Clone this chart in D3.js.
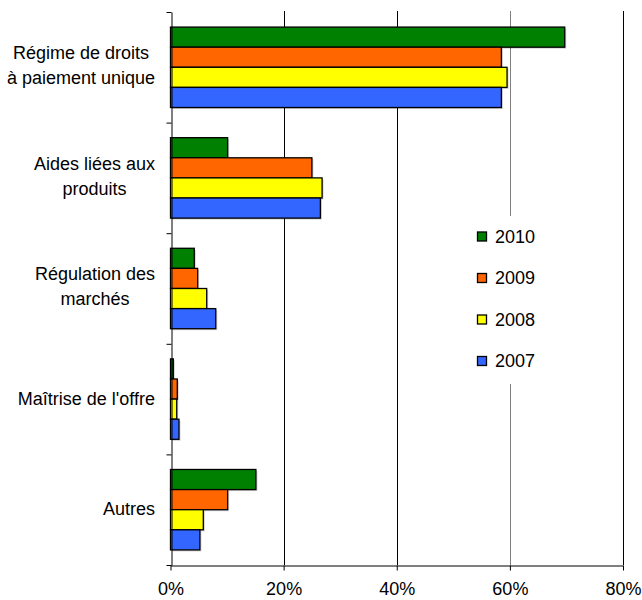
<!DOCTYPE html>
<html>
<head>
<meta charset="utf-8">
<script src="https://cdn.jsdelivr.net/npm/d3@7"></script>
<style>
  html, body { margin: 0; padding: 0; background: #fff; }
  svg { display: block; font-family: "Liberation Sans", Arial, sans-serif; }
</style>
</head>
<body>
<svg id="chart" width="642" height="600"></svg>
<script>
// Répartition des aides par type (part du total), 2007-2010
const categories = [
  ["Régime de droits", "à paiement unique"],
  ["Aides liées aux", "produits"],
  ["Régulation des", "marchés"],
  ["Maîtrise de l'offre"],
  ["Autres"]
];
const years = ["2010", "2009", "2008", "2007"];
const colors = ["#008000", "#FF6600", "#FFFF00", "#3366FF"];
const values2010 = [69.7, 10.1, 4.2, 0.5, 15.1];
const values2009 = [58.5, 25.0, 4.8, 1.2, 10.1];
const values2008 = [59.5, 26.8, 6.4, 1.1, 5.8];
const values2007 = [58.5, 26.5, 8.0, 1.5, 5.2];
const xTicks = [0, 20, 40, 60, 80];

const series = [values2010, values2009, values2008, values2007];

const svg = d3.select("#chart");
const plotLeft = 170.5, plotRight = 623, plotTop = 12, plotBottom = 565;

const x = d3.scaleLinear().domain([0, 80]).range([plotLeft, plotRight]);
const y = d3.scaleBand().domain(d3.range(categories.length)).range([plotTop, plotBottom]).padding(0);
const inner = d3.scaleBand().domain(years).range([0, y.bandwidth()])
  .paddingInner(0).paddingOuter(0.75);

const crisp = v => Math.round(v) + 0.5;

// vertical gridlines
svg.append("g").selectAll("line")
  .data(xTicks.filter(t => t > 0))
  .join("line")
  .attr("x1", d => crisp(x(d))).attr("x2", d => crisp(x(d)))
  .attr("y1", plotTop - 1).attr("y2", plotBottom)
  .attr("stroke", d => d === 60 ? "#808080" : "#000")
  .attr("stroke-width", 1);

// bars
const groups = svg.append("g").selectAll("g")
  .data(categories)
  .join("g")
  .attr("transform", (d, i) => `translate(0,${y(i)})`);

groups.each(function(cat, ci) {
  const g = d3.select(this);
  years.forEach((yr, si) => {
    const v = series[si][ci];
    // soft shadow
    g.append("rect")
      .attr("x", x(0) + 1.5)
      .attr("y", inner(yr) + 1.5)
      .attr("width", x(v) - x(0))
      .attr("height", inner.bandwidth())
      .attr("fill", "#000").attr("opacity", 0.18);
    g.append("rect")
      .attr("x", x(0))
      .attr("y", inner(yr))
      .attr("width", x(v) - x(0))
      .attr("height", inner.bandwidth())
      .attr("fill", colors[si])
      .attr("stroke", "#000")
      .attr("stroke-width", 1.3);
  });
});

// x axis
const xAxis = svg.append("g")
  .attr("transform", `translate(0,${crisp(plotBottom)})`)
  .call(d3.axisBottom(x).tickValues(xTicks).tickFormat(d => d + "%").tickSizeInner(5).tickSizeOuter(0));
xAxis.select(".domain").attr("stroke", "#000");
xAxis.selectAll(".tick line").attr("stroke", "#000");
xAxis.selectAll(".tick text")
  .attr("font-size", "18px").attr("fill", "#000")
  .attr("y", 17).attr("dy", "0.71em");

// y axis line with category separators
const yAxis = svg.append("g")
  .attr("transform", `translate(${crisp(plotLeft)},0)`)
  .call(d3.axisLeft(d3.scaleLinear().domain([0, categories.length]).range([plotTop, plotBottom]))
    .ticks(categories.length).tickFormat("").tickSizeInner(5).tickSizeOuter(0));
yAxis.select(".domain").attr("stroke", "#000");
yAxis.selectAll(".tick line").attr("stroke", "#000");

// category labels
const labelRight = 155;
categories.forEach((lines, i) => {
  const cy = y(i) + y.bandwidth() / 2 - (lines.length > 1 ? 2 : 1);
  const lineH = 25;
  const g = svg.append("g");
  const texts = lines.map((ln, k) => g.append("text")
    .attr("font-size", "18px").attr("fill", "#000")
    .attr("text-anchor", "middle")
    .attr("y", cy + 6.4 + (k - (lines.length - 1) / 2) * lineH)
    .text(ln));
  const maxW = d3.max(texts, t => t.node().getComputedTextLength());
  texts.forEach(t => t.attr("x", labelRight - maxW / 2));
});

// legend
const legend = svg.append("g");
legend.append("rect")
  .attr("x", 470).attr("y", 216).attr("width", 78).attr("height", 168)
  .attr("fill", "#fff");
const legY = [242.5, 284, 325.5, 367];
years.forEach((yr, i) => {
  legend.append("rect")
    .attr("x", 477.5).attr("y", legY[i] - 10.5)
    .attr("width", 9).attr("height", 9)
    .attr("fill", colors[i]).attr("stroke", "#000").attr("stroke-width", 1.3);
  legend.append("text")
    .attr("x", 495).attr("y", legY[i])
    .attr("font-size", "18px").attr("fill", "#000")
    .text(yr);
});
</script>
</body>
</html>
